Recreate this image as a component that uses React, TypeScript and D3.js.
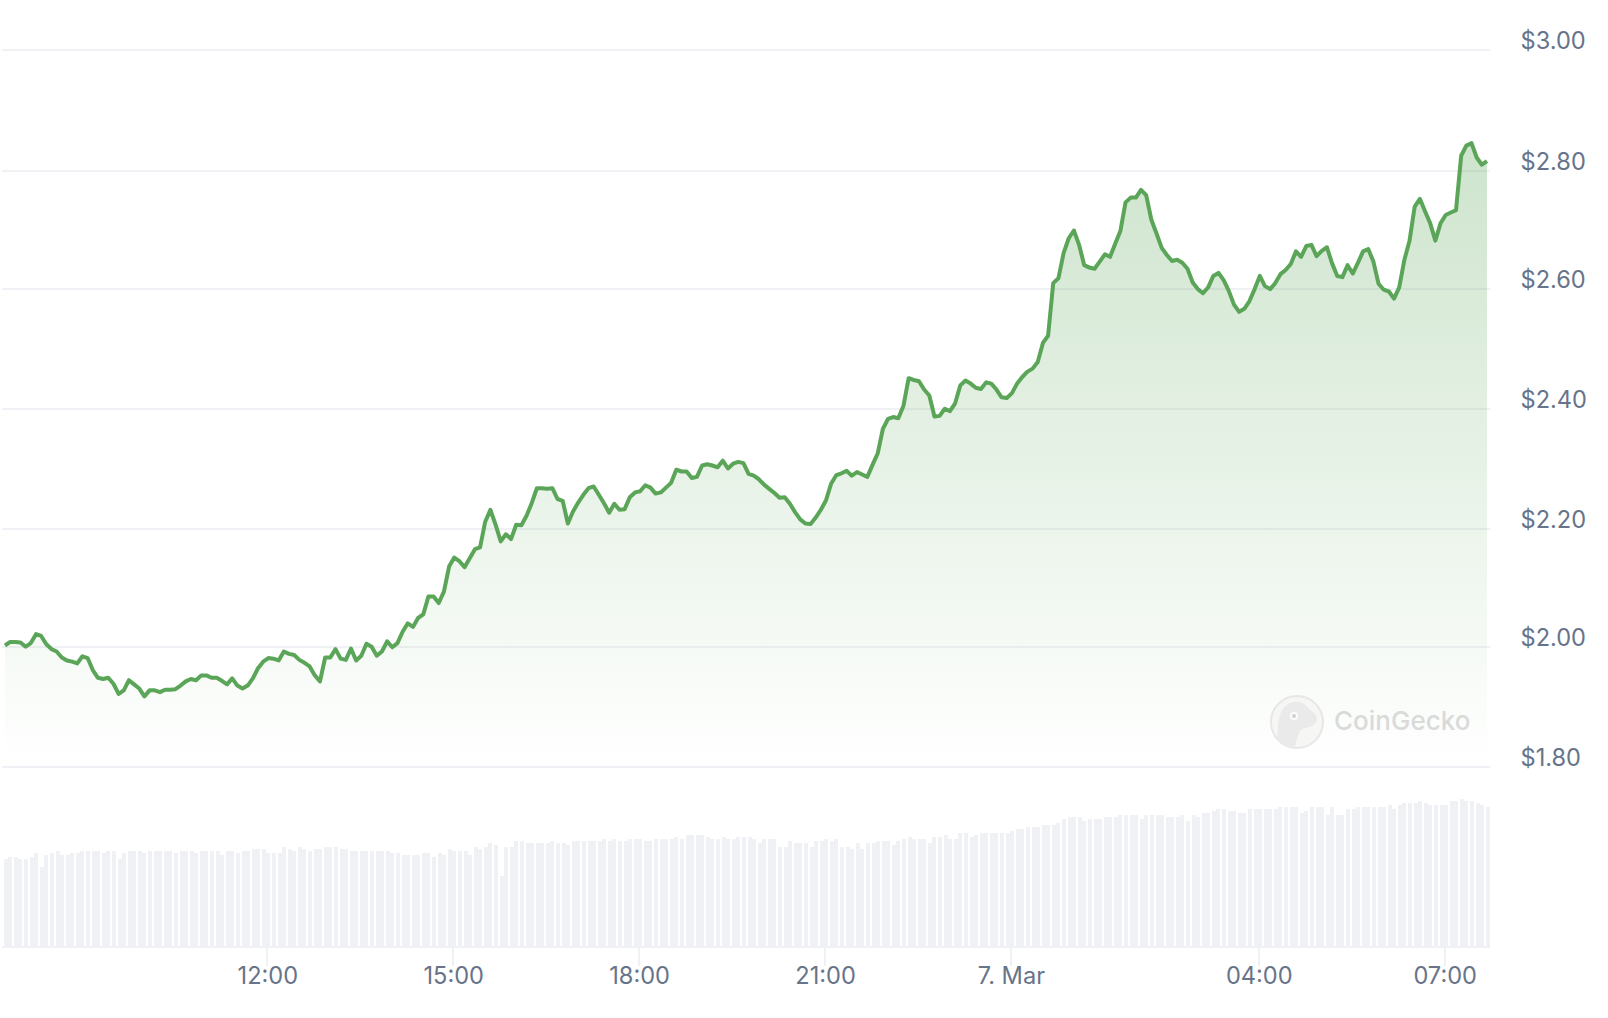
import React from "react";
import * as d3 from "d3";

// 5 minute samples
const prices = [
  2.002, 2.008, 2.008, 2.007, 2.0, 2.006, 2.021, 2.018, 2.004, 1.996,
  1.992, 1.982, 1.977, 1.975, 1.972, 1.984, 1.981, 1.961, 1.948, 1.946,
  1.948, 1.938, 1.921, 1.927, 1.944, 1.937, 1.93, 1.917, 1.927, 1.927,
  1.924, 1.928, 1.928, 1.929, 1.935, 1.942, 1.946, 1.944, 1.952, 1.952,
  1.948, 1.948, 1.943, 1.937, 1.947, 1.935, 1.93, 1.935, 1.947, 1.964,
  1.975, 1.981, 1.98, 1.977, 1.992, 1.988, 1.986, 1.978, 1.973, 1.967,
  1.952, 1.942, 1.982, 1.982, 1.996, 1.98, 1.978, 1.997, 1.977, 1.985,
  2.005, 2.0, 1.985, 1.992, 2.009, 1.999, 2.006, 2.025, 2.039, 2.033,
  2.048, 2.054, 2.084, 2.084, 2.073, 2.092, 2.134, 2.149, 2.143, 2.133,
  2.148, 2.163, 2.166, 2.209, 2.229, 2.204, 2.176, 2.188, 2.18, 2.204,
  2.203, 2.219, 2.24, 2.265, 2.265, 2.264, 2.265, 2.247, 2.244, 2.206,
  2.226, 2.241, 2.254, 2.265, 2.268, 2.254, 2.24, 2.224, 2.239, 2.229,
  2.23, 2.25, 2.258, 2.26, 2.27, 2.266, 2.256, 2.258, 2.266, 2.274,
  2.296, 2.293, 2.293, 2.282, 2.284, 2.303, 2.305, 2.303, 2.3, 2.311,
  2.298, 2.306, 2.309, 2.307, 2.289, 2.286, 2.28, 2.271, 2.264, 2.257,
  2.249, 2.25, 2.239, 2.225, 2.213, 2.206, 2.205, 2.216, 2.229, 2.245,
  2.273, 2.287, 2.29, 2.294, 2.286, 2.292, 2.288, 2.284, 2.304, 2.323,
  2.364, 2.381, 2.384, 2.382, 2.403, 2.449, 2.446, 2.444, 2.43, 2.42,
  2.385, 2.386, 2.398, 2.394, 2.407, 2.437, 2.445, 2.44, 2.433, 2.431,
  2.442, 2.44, 2.43, 2.417, 2.416, 2.424, 2.44, 2.451, 2.46, 2.465,
  2.476, 2.508, 2.52, 2.608, 2.616, 2.658, 2.683, 2.696, 2.672, 2.638,
  2.634, 2.632, 2.644, 2.656, 2.652, 2.674, 2.695, 2.743, 2.751, 2.751,
  2.764, 2.755, 2.714, 2.691, 2.667, 2.655, 2.645, 2.647, 2.642, 2.632,
  2.609, 2.598, 2.591, 2.601, 2.62, 2.625, 2.613, 2.595, 2.572, 2.56,
  2.565, 2.578, 2.598, 2.62, 2.603, 2.598, 2.608, 2.623, 2.63, 2.64,
  2.661, 2.652, 2.67, 2.672, 2.653, 2.662, 2.668, 2.641, 2.62, 2.618,
  2.638, 2.624, 2.642, 2.661, 2.665, 2.644, 2.607, 2.597, 2.594, 2.582,
  2.601, 2.647, 2.679, 2.736, 2.749, 2.728, 2.708, 2.679, 2.708, 2.722,
  2.726, 2.73, 2.821, 2.838, 2.842, 2.818, 2.806, 2.812,
];

// relative volume, the chart has no volume axis
const volumes = [
  87, 89, 89, 87, 87, 89, 93, 79, 91, 93, 95, 91, 91, 93, 93, 95, 95, 95, 95, 93,
  95, 95, 87, 93, 95, 95, 95, 93, 95, 95, 95, 95, 95, 93, 95, 95, 95, 93, 95, 95,
  95, 95, 91, 95, 95, 93, 95, 95, 97, 97, 97, 93, 93, 93, 99, 97, 95, 99, 97, 95,
  97, 97, 99, 99, 99, 97, 97, 95, 95, 95, 95, 95, 95, 95, 95, 93, 93, 91, 91, 91,
  91, 93, 93, 89, 93, 91, 97, 95, 95, 95, 91, 99, 97, 99, 103, 101, 70,
  99, 99, 105, 105, 103, 103, 103, 103, 103, 105, 103, 103, 101, 105, 105, 105, 105, 105, 105, 107,
  105, 107, 105, 105, 107, 107, 107, 105, 105, 107, 107, 107, 107, 109, 107, 111, 111, 111, 111, 109,
  107, 107, 109, 107, 107, 109, 109, 109, 107, 103, 107, 107, 107, 99, 99, 105, 103, 103, 103, 99,
  105, 105, 107, 105, 107, 99, 99, 97, 103, 97, 103, 103, 105, 105, 105, 101, 105, 107, 109, 107,
  107, 107, 103, 109, 109, 111, 107, 107, 113, 113, 109, 111, 113, 113, 113, 113,
  113, 113, 115, 117, 117, 119, 119, 119, 121, 121, 121, 123, 127, 129, 129, 129, 125, 127, 127, 127,
  129, 129, 129, 131, 131, 131, 131, 127, 131, 131, 131, 131, 129, 129, 129, 131, 125, 131, 129, 133,
  133, 135, 137, 137, 135, 135, 133, 133, 137, 137, 137, 137, 137, 137, 139, 139, 139, 139, 133, 135,
  139, 139, 139, 131, 139, 131, 131, 137, 137, 139, 139, 139, 139, 139, 139, 141, 137, 141, 143, 143,
  143, 145, 143, 141, 141, 141, 141, 145, 145, 147, 145, 145, 143, 141, 139,
];

const priceTicks = [1.8, 2.0, 2.2, 2.4, 2.6, 2.8, 3.0];
const timeTicks: [Date, string][] = [
  [new Date(2025, 2, 6, 12, 0), "12:00"],
  [new Date(2025, 2, 6, 15, 0), "15:00"],
  [new Date(2025, 2, 6, 18, 0), "18:00"],
  [new Date(2025, 2, 6, 21, 0), "21:00"],
  [new Date(2025, 2, 7, 0, 0), "7. Mar"],
  [new Date(2025, 2, 7, 4, 0), "04:00"],
  [new Date(2025, 2, 7, 7, 0), "07:00"],
];

const start = new Date(2025, 2, 6, 7, 45);
const times = prices.map((_, i) => d3.timeMinute.offset(start, i * 5));

const GRID = "#f0f1f5";
const LABEL = "#677489";
const GREEN = "#5aa557";
const FONT = "Inter, sans-serif";

const x = d3.scaleTime().domain([times[0], times[times.length - 1]]).range([5, 1487]);
const y = d3.scaleLinear().domain([2, 3]).range([646.7, 48.7]);
// gridlines land a little unevenly in the original, so they get their own scale
const yGrid = d3.scaleLinear().domain(priceTicks).range([767, 647, 529, 409, 289, 171, 50]);
const yVol = d3.scaleLinear().domain([0, 147]).range([946, 799]);

const line = d3.line<number>().x((_, i) => x(times[i])).y((d) => y(d));
const area = d3
  .area<number>()
  .x((_, i) => x(times[i]))
  .y0(y(1.8))
  .y1((d) => y(d));

// bars land on a 2px grid in the original
const snap = (v: number) => Math.round(v / 2) * 2;

export default function App() {
  return (
    <svg
      width={1608}
      height={1018}
      style={{ position: "absolute", left: 0, top: 0, background: "#fff" }}
    >
      <defs>
        <linearGradient id="fade" gradientUnits="userSpaceOnUse" x1={0} x2={0} y1={y(2.84)} y2={y(1.8)}>
          <stop offset="0" stopColor={GREEN} stopOpacity={0.3} />
          <stop offset="1" stopColor={GREEN} stopOpacity={0} />
        </linearGradient>
      </defs>

      {priceTicks.map((t) => (
        <rect key={t} x={2} y={yGrid(t) - 1} width={1488} height={2} fill={GRID} shapeRendering="crispEdges" />
      ))}
      {priceTicks.map((t) => (
        <text key={t} x={1520.5} y={yGrid(t) - 1} fontFamily={FONT} fontSize={23.6} fill={LABEL}>
          {d3.format("$.2f")(t)}
        </text>
      ))}

      {volumes.map((v, i) => (
        <rect
          key={i}
          x={snap(x(times[i]) - 1.5)}
          y={yVol(v)}
          width={4}
          height={yVol(0) - yVol(v)}
          fill={GRID}
          shapeRendering="crispEdges"
        />
      ))}
      <rect x={2} y={946} width={1488} height={2} fill={GRID} shapeRendering="crispEdges" />
      {timeTicks.map(([t, label]) => (
        <g key={label}>
          <rect x={snap(x(t)) - 2} y={948} width={2} height={18} fill={GRID} shapeRendering="crispEdges" />
          <text x={x(t) - 0.5} y={984} textAnchor="middle" fontFamily={FONT} fontSize={23.6} fill={LABEL}>
            {label}
          </text>
        </g>
      ))}

      <path d={area(prices) ?? ""} fill="url(#fade)" />
      <path d={line(prices) ?? ""} fill="none" stroke={GREEN} strokeWidth={4} strokeLinejoin="round" />

      {/* CoinGecko watermark */}
      <g transform="translate(1297,722)">
        <circle r={26} fill="#f6f6f5" stroke="#e6e7e6" strokeWidth={2} />
        <path
          d="M-19,19 C-20,0 -18,-18 -3,-20 C5,-21 10,-16 13,-12 C17,-9 20,-7 20,-3 C20,2 14,5 8,6 C2,7 1,14 -2,24 C-8,26 -15,24 -19,19 Z"
          fill="#e9eae9"
        />
        <circle cx={-3} cy={-6} r={4} fill="#fbfbfb" />
        <circle cx={-3} cy={-6} r={2} fill="#cfd0cf" />
      </g>
      <text x={1334} y={730} fontFamily={FONT} fontSize={26} fontWeight={500} fill="#d9dada">
        CoinGecko
      </text>
    </svg>
  );
}
